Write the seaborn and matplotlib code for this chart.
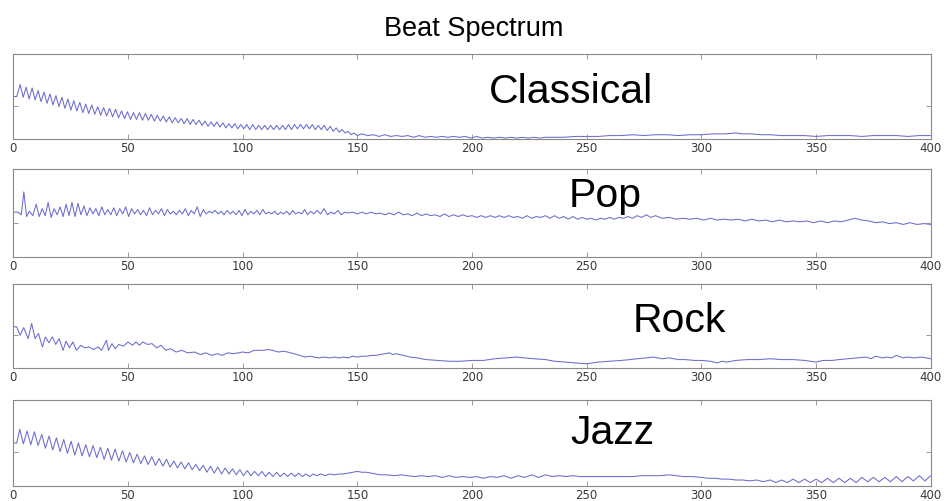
import matplotlib
matplotlib.use("Agg")
import matplotlib.pyplot as plt
import seaborn as sns
import pandas as pd

# Beat spectra per genre: lag (x) and relative magnitude in percent of panel range (y)
classical_lag = [0, 1.5, 3.0, 4.3, 5.6, 6.9, 8.2, 9.5, 10.8, 12.1, 13.4, 14.7, 16.0, 17.3, 18.6, 19.9,
                 21.2, 22.5, 23.8, 25.1, 26.4, 27.7, 29.0, 30.3, 31.6, 32.9, 34.2, 35.5, 36.8, 38.1,
                 39.4, 40.7, 42.0, 43.3, 44.6, 45.9, 47.2, 48.5, 49.8, 51.1, 52.4, 53.7, 55.0, 56.3,
                 57.6, 58.9, 60.2, 61.5, 62.8, 64.1, 65.4, 66.7, 68.0, 69.3, 70.6, 71.9, 73.2, 74.5,
                 75.8, 77.1, 78.4, 79.7, 81.0, 82.3, 83.6, 84.9, 86.2, 87.5, 88.8, 90.1, 91.4, 92.7,
                 94.0, 95.3, 96.6, 97.9, 99.2, 100.5, 101.8, 103.1, 104.4, 105.7, 107.0, 108.3, 109.6,
                 110.9, 112.2, 113.5, 114.8, 116.1, 117.4, 118.7, 120.0, 121.3, 122.6, 123.9, 125.2,
                 126.5, 127.8, 129.1, 130.4, 131.7, 133.0, 134.3, 135.6, 136.9, 138.2, 139.5, 140.8,
                 142.1, 143.4, 144.7, 146.0, 147.3, 148.6, 149.9,
                 152, 154.5, 157, 159.5, 162, 164.5, 167, 169.5, 172, 174.5, 177, 179.5, 182, 184.5,
                 187, 189.5, 192, 194.5, 197, 199.5, 202, 204.5, 207, 209.5, 212, 214.5, 217, 219.5,
                 222, 224.5, 227, 229.5, 232, 236, 240, 245, 250, 255, 260, 265, 270, 275, 280, 285,
                 290, 295, 300, 305, 310, 315, 318, 322, 326, 330, 335, 340, 345, 350, 355, 360, 365,
                 370, 375, 380, 385, 390, 395, 400]
classical_val = [50, 50, 64, 49, 61, 47, 60, 46, 57, 44, 55, 42, 53, 40, 51, 38,
                 49, 36, 47, 34, 45, 33, 43, 31, 41, 30, 40, 29, 38, 28,
                 37, 27, 36, 26, 35, 25, 33, 24, 32, 23, 31, 23, 31, 22,
                 30, 22, 29, 21, 28, 21, 27, 20, 26, 19, 25, 19, 24, 18,
                 24, 17, 23, 17, 22, 16, 21, 15, 20, 15, 20, 14, 19, 13,
                 18, 13, 18, 12, 17, 12, 17, 11, 17, 11, 16, 11, 16,
                 11, 16, 11, 16, 11, 16, 11, 17, 11, 17, 12, 17,
                 12, 17, 12, 17, 11, 16, 11, 16, 10, 15, 9, 13,
                 8, 11, 7, 9, 5, 7, 4,
                 6, 4, 5, 3, 5, 3, 4, 3, 4, 2, 4, 2, 3, 2,
                 3, 2, 3, 2, 3, 1, 3, 1, 2, 1, 2, 1, 2, 1,
                 2, 1, 2, 1, 2, 2, 2, 3, 3, 3, 4, 4, 5, 4, 5, 5,
                 4, 5, 5, 6, 6, 7, 6, 6, 5, 5, 4, 4, 4, 3, 4, 4, 4,
                 3, 4, 4, 4, 3, 4, 4]

pop_lag = [0, 2, 3.5, 4.6, 5.8, 7, 8.5, 10, 11.3, 12.6, 13.9, 15.2, 16.5, 17.8, 19.1, 20.4, 21.7,
           23, 24.3, 25.6, 26.9, 28.2, 29.5, 30.8, 32.1, 33.4, 34.7, 36, 37.3, 38.6, 39.9, 41.2,
           42.5, 43.8, 45.1, 46.4, 47.7, 49, 50.3, 51.6, 52.9, 54.2, 55.5, 56.8, 58.1, 59.4, 60.7,
           62, 63.3, 64.6, 65.9, 67.2, 68.5, 69.8, 71.1, 72.4, 73.7, 75, 76.3, 77.6, 78.9, 80.2,
           81.5, 82.8, 84.1, 85.4, 86.7, 88, 89.3, 90.6, 91.9, 93.2, 94.5, 95.8, 97.1, 98.4, 99.7,
           101, 102.3, 103.6, 104.9, 106.2, 107.5, 108.8, 110.1, 111.4, 112.7, 114, 115.3, 116.6,
           117.9, 119.2, 120.5, 121.8, 123.1, 124.4, 125.7, 127, 128.3, 129.6, 131, 132.5, 134,
           135.5, 137, 138.5, 140, 141.5, 143, 144.5, 146, 148, 150, 152, 154, 156, 158, 160, 162,
           164, 166, 168, 170, 172, 174, 176, 178, 180, 182, 184, 186, 188, 190, 192, 194, 196,
           198, 200, 202, 204, 206, 208, 210, 212, 214, 216, 218, 220, 222, 224, 226, 228, 230,
           232, 234, 236, 238, 240, 242, 244, 246, 248, 250, 252, 254, 256, 258, 260, 262, 264,
           266, 268, 270, 272, 274, 276, 278, 280, 283, 286, 289, 292, 295, 298, 301, 304, 307,
           310, 313, 316, 319, 322, 325, 328, 331, 334, 337, 340, 343, 346, 349, 352, 355, 358,
           361, 364, 367, 370, 373, 376, 379, 382, 385, 388, 391, 394, 397, 400]
pop_val = [51, 51, 48, 74, 46, 52, 47, 60, 46, 55, 47, 62, 45, 55, 48, 57, 46,
           60, 47, 62, 46, 61, 48, 58, 47, 56, 49, 55, 47, 57, 48, 54,
           48, 56, 47, 55, 49, 57, 46, 55, 49, 54, 48, 53, 47, 56, 48,
           53, 49, 55, 47, 54, 49, 52, 48, 53, 49, 55, 47, 53, 49, 57,
           46, 54, 49, 52, 50, 53, 49, 52, 48, 53, 49, 52, 48, 53, 47,
           54, 48, 52, 49, 53, 48, 54, 49, 51, 49, 52, 48, 51,
           49, 52, 48, 53, 49, 51, 49, 54, 48, 52, 49, 53, 49,
           55, 48, 51, 49, 53, 48, 51, 50, 51, 49, 51, 49, 51, 49, 50, 48,
           50, 48, 51, 48, 49, 47, 50, 47, 49, 47, 48, 46, 49, 46, 48, 46, 48,
           46, 47, 45, 47, 45, 47, 45, 47, 45, 47, 45, 46, 44, 47, 44, 46, 45,
           47, 44, 47, 44, 46, 43, 46, 43, 45, 43, 44, 42, 44, 43, 45, 43, 45,
           44, 46, 44, 47, 45, 48, 45, 47, 44, 45, 43, 44, 43, 44, 42, 44, 42,
           43, 42, 43, 41, 43, 41, 42, 40, 42, 40, 41, 40, 41, 39, 41, 39, 41,
           40, 42, 44, 42, 41, 39, 40, 38, 39, 37, 39, 37, 38, 37]

rock_lag = [0, 1.5, 3, 4.5, 6.5, 8, 9.5, 11, 12.7, 14, 15.5, 17, 18.5, 20, 21.7, 23, 24.5, 26,
            27.5, 29.5, 31, 33, 35, 37, 38.5, 40.6, 41.5, 43, 44.5, 46, 48, 50, 52, 53.5, 55,
            56.5, 58.5, 60.5, 62.5, 64.5, 66.5, 68.5, 71, 73.5, 76, 79, 81.5, 84, 86.5, 89, 91,
            93.5, 96, 100, 102.5, 105, 109, 111, 113, 115.5, 118, 121, 125, 127, 129.5, 133,
            135.5, 138, 140, 142, 144, 146, 148, 150, 152, 154, 156, 158, 160, 162, 164, 165.5,
            167, 170, 173, 176, 180, 185, 190, 195, 200, 205, 210, 215, 219, 223, 227, 232, 236,
            241, 245, 250, 255, 260, 265, 269, 272, 276, 279, 283, 286, 290, 293, 297, 300, 304,
            307, 309, 311, 315, 320, 325, 330, 335, 340, 345, 350, 353, 357, 360, 364, 368, 372,
            374, 376, 379, 381, 383, 385, 388, 390, 393, 396, 400]
rock_val = [49, 49, 39, 48, 35, 53, 35, 41, 25, 37, 30, 37, 28, 35, 21, 32, 24, 31,
            21, 27, 24, 25, 22, 25, 21, 33, 21, 29, 23, 28, 26, 31, 27, 31, 27,
            31, 28, 29, 24, 27, 21, 23, 19, 21, 18, 19, 16, 18, 15, 17, 15,
            18, 17, 19, 18, 21, 21, 22, 21, 19, 20, 18, 15, 13, 14, 12,
            13, 12, 13, 12, 13, 12, 14, 13, 14, 14, 15, 15, 16, 17, 18, 16,
            17, 15, 13, 12, 10, 9, 8, 8, 9, 9, 11, 12, 13, 12, 11, 10, 8,
            7, 6, 5, 7, 8, 9, 10, 11, 12, 13, 11, 12, 10, 10, 9, 9, 8,
            6, 8, 7, 9, 10, 10, 11, 10, 10, 9, 7, 9, 9, 10, 11, 12, 13,
            11, 14, 12, 13, 12, 15, 12, 13, 12, 13, 11]

jazz_lag = [0, 1.5, 2.8, 4.4, 6, 7.6, 9.2, 10.8, 12.4, 14, 15.6, 17.2, 18.8, 20.4, 22, 23.6, 25.2,
            26.8, 28.4, 30, 31.6, 33.2, 34.8, 36.4, 38, 39.6, 41.2, 42.8, 44.4, 46, 47.6, 49.2,
            50.8, 52.4, 54, 55.6, 57.2, 58.8, 60.4, 62, 63.6, 65.2, 66.8, 68.4, 70, 71.6, 73.2,
            74.8, 76.4, 78, 79.6, 81.2, 82.8, 84.4, 86, 87.6, 89.2, 90.8, 92.4, 94, 95.6, 97.2,
            98.8, 100.4, 102, 103.6, 105.2, 106.8, 108.4, 110, 111.6, 113.2, 114.8, 116.4, 118,
            119.6, 121.2, 122.8, 124.4, 126, 127.6, 129.2, 130.8, 132.4, 134, 136, 138, 140, 142,
            144, 146, 148, 150, 152, 154, 156, 158, 160, 163, 166, 169, 172, 175, 178, 181, 184,
            187, 190, 193, 196, 199, 202, 205, 208, 211, 214, 217, 220, 223, 226, 229, 232, 235,
            238, 241, 244, 247, 250, 254, 258, 262, 266, 270, 274, 278, 282, 286, 289, 292, 296,
            300, 303, 306, 309, 312, 315, 318, 321, 324, 327, 330, 332.5, 335, 337.5, 340, 342.5,
            345, 347.5, 350, 352.5, 355, 357.5, 360, 362.5, 365, 367.5, 370, 372.5, 375, 377.5,
            380, 382.5, 385, 387.5, 390, 392.5, 395, 397.5, 400]
jazz_val = [50, 50, 66, 49, 64, 48, 63, 47, 60, 44, 58, 42, 56, 40, 54, 38, 52,
            36, 50, 35, 48, 34, 47, 33, 45, 31, 44, 30, 43, 29, 41, 28,
            39, 27, 37, 26, 35, 25, 34, 24, 32, 23, 31, 22, 29, 21, 28,
            20, 27, 19, 25, 18, 24, 16, 23, 15, 22, 14, 21, 14, 20, 13,
            19, 12, 18, 12, 17, 12, 17, 11, 16, 11, 16, 11, 15,
            11, 15, 11, 15, 11, 14, 11, 14, 12, 14, 12, 14, 13, 14,
            14, 15, 16, 17, 16, 16, 15, 14, 13, 13, 12, 13, 12, 11, 12, 11, 12,
            10, 12, 10, 11, 10, 11, 9, 11, 10, 12, 9, 12, 10, 13, 10, 13, 11,
            12, 11, 12, 11, 11, 11, 11, 11, 11, 11, 12, 12, 12, 13, 12, 11, 11,
            10, 9, 9, 8, 8, 7, 7, 6, 7, 5, 7, 4, 7, 4, 8, 4,
            8, 4, 8, 4, 9, 4, 9, 4, 9, 4, 10, 5, 10, 5,
            10, 5, 11, 5, 11, 6, 12, 6, 12]

genres = ["Classical", "Pop", "Rock", "Jazz"]
series = {
    "Classical": (classical_lag, classical_val),
    "Pop": (pop_lag, pop_val),
    "Rock": (rock_lag, rock_val),
    "Jazz": (jazz_lag, jazz_val),
}
x_ticks = [0, 50, 100, 150, 200, 250, 300, 350, 400]
y_ticks = [39]

sns.set_style("white")
plt.rcParams["font.family"] = ["Liberation Sans", "DejaVu Sans"]

fig = plt.figure(figsize=(9.49, 5.01), dpi=100)

# panel boxes in figure fractions: (bottom, height)
panel_rects = [(0.7226, 0.1697), (0.4870, 0.1756), (0.2655, 0.1677), (0.0299, 0.1717)]
# label anchor (axes fraction): x centre, baseline
label_pos = {"Classical": (0.608, 0.42), "Pop": (0.645, 0.57),
             "Rock": (0.726, 0.43), "Jazz": (0.653, 0.49)}

line_color = "#6b6bd0"
frame_color = "#8a8a8a"

for genre, (b, h) in zip(genres, panel_rects):
    ax = fig.add_axes([0.01401, b, 0.9667, h])
    lag, val = series[genre]
    df = pd.DataFrame({"lag": lag, "value": val})
    sns.lineplot(data=df, x="lag", y="value", ax=ax, color=line_color,
                 linewidth=0.75, estimator=None, sort=False)
    ax.set_xlim(0, 400)
    ax.set_ylim(0, 100)
    ax.set_xticks(x_ticks)
    ax.set_xticklabels([str(t) for t in x_ticks], family="DejaVu Sans",
                       fontsize=8.5, color="#3a3a3a")
    ax.set_yticks(y_ticks)
    ax.set_yticklabels([])
    ax.tick_params(axis="x", direction="in", top=True, bottom=True, length=3.5,
                   width=0.6, color=frame_color, pad=2.5)
    ax.tick_params(axis="y", direction="in", left=True, right=True, length=3.5,
                   width=0.6, color=frame_color)
    ax.set_xlabel("")
    ax.set_ylabel("")
    for sp in ax.spines.values():
        sp.set_visible(True)
        sp.set_color(frame_color)
        sp.set_linewidth(0.8)
    lx, ly = label_pos[genre]
    ax.text(lx, ly, genre, transform=ax.transAxes, ha="center", va="baseline",
            fontsize=29.5, color="black")

fig.text(474 / 949, 1 - 29 / 501, "Beat Spectrum", ha="center", va="center",
         fontsize=19.5, color="black")

fig.savefig("out.png", dpi=100)
